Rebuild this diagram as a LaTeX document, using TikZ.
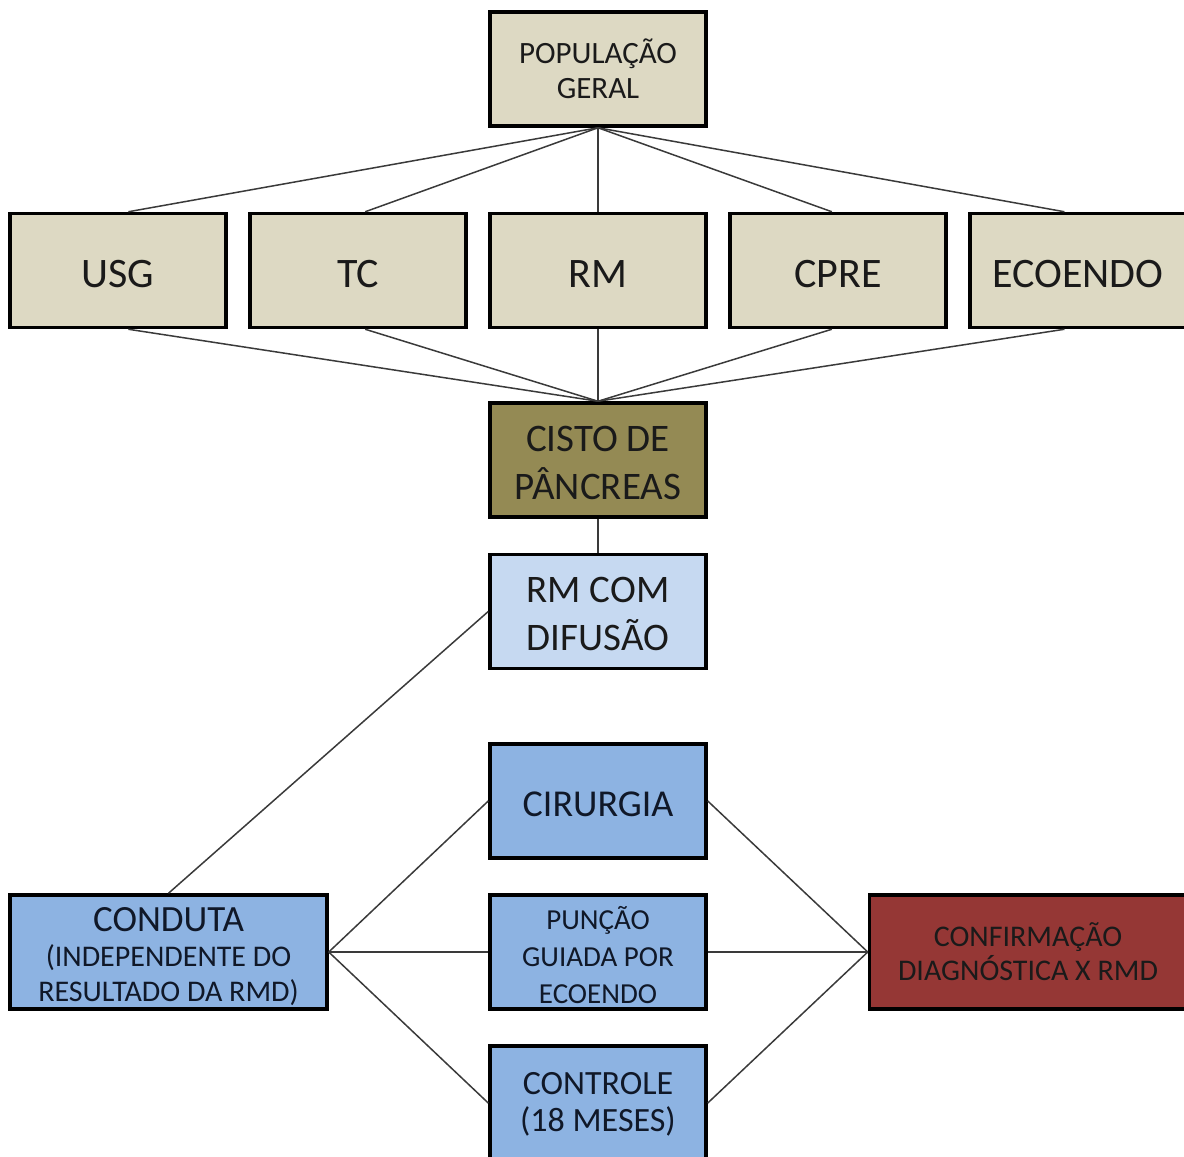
\documentclass[tikz,border=0pt]{standalone}
\usepackage{fontspec}
\setmainfont{Carlito}
\definecolor{beige}{HTML}{DDD9C3}
\definecolor{olive}{HTML}{948A54}
\definecolor{lblue}{HTML}{C6D9F1}
\definecolor{mblue}{HTML}{8DB3E2}
\definecolor{dred}{HTML}{953735}
\definecolor{ink}{HTML}{1A1A1A}
\definecolor{navy}{HTML}{101828}
\definecolor{wire}{HTML}{3A3A3A}
\newcommand{\fs}[2]{\fontsize{#1}{#2}\selectfont}
% extra height above the first line (moves the text block down by half of it)
\newcommand{\padtop}[1]{\raisebox{#1}{\vphantom{A}}}
\newcommand{\padtopacc}[1]{\raisebox{#1}{\vphantom{Ã}}}
\tikzset{
  box/.style={draw=black, line width=3.5pt, minimum width=216pt, minimum height=114pt,
    inner sep=0pt, align=center, text=ink},
  widebox/.style={box, minimum width=317pt},
  conn/.style={draw=wire, line width=1.5pt},
}
\begin{document}
\begin{tikzpicture}[x=1pt, y=-1pt]
\useasboundingbox (0,0) rectangle (1184,1157);
% nodes
\node[box, fill=beige, font=\fs{31}{35}] (pop) at (598,69) {POPULAÇÃO\\GERAL};
\node[box, fill=beige, font=\fs{42}{50}] (usg) at (118,270.5) {\padtop{8pt}USG};
\node[box, fill=beige, font=\fs{42}{50}] (tc) at (358,270.5) {\padtop{8pt}TC};
\node[box, fill=beige, font=\fs{42}{50}] (rm) at (598,270.5) {\padtop{8pt}RM};
\node[box, fill=beige, font=\fs{42}{50}] (cpre) at (838,270.5) {\padtop{8pt}CPRE};
\node[box, fill=beige, font=\fs{42}{50}] (eco) at (1078,270.5) {\padtop{8pt}ECOENDO};
\node[box, fill=olive, font=\fs{39}{48}] (cisto) at (598,460) {\padtop{6pt}CISTO DE\\PÂNCREAS};
\node[box, fill=lblue, font=\fs{39}{48}] (rmd) at (598,611.5) {\padtop{6pt}RM COM\\DIFUSÃO};
\node[box, fill=mblue, text=navy, font=\fs{38}{46}] (cir) at (598,801) {\padtop{6pt}CIRURGIA};
\node[box, fill=mblue, text=navy, font=\fs{29}{37}] (pun) at (598,952) {\padtopacc{6pt}PUNÇÃO\\GUIADA POR\\ECOENDO};
\node[box, fill=mblue, text=navy, font=\fs{34}{37}] (con) at (598,1103) {\padtop{3pt}CONTROLE\\(18 MESES)};
\node[widebox, fill=mblue, text=navy, font=\fs{30}{35}] (cond) at (168.5,952) {{\fs{37}{35}\padtop{10pt}CONDUTA}\\(INDEPENDENTE DO\\RESULTADO DA RMD)};
\node[widebox, fill=dred, font=\fs{30}{34}] (conf) at (1028,952) {CONFIRMAÇÃO\\DIAGNÓSTICA X RMD};
% connectors
\draw[conn] (pop.south) -- (usg.80);
\draw[conn] (pop.south) -- (tc.83);
\draw[conn] (pop.south) -- (rm.north);
\draw[conn] (pop.south) -- (cpre.96);
\draw[conn] (pop.south) -- (eco.103);
\draw[conn] (usg.-80) -- (cisto.north);
\draw[conn] (tc.-83) -- (cisto.north);
\draw[conn] (rm.south) -- (cisto.north);
\draw[conn] (cpre.-96) -- (cisto.north);
\draw[conn] (eco.-103) -- (cisto.north);
\draw[conn] (cisto.south) -- (rmd.north);
\draw[conn] (rmd.west) -- (cond.north);
\draw[conn] (cond.east) -- (cir.west);
\draw[conn] (cond.east) -- (pun.west);
\draw[conn] (cond.east) -- (con.west);
\draw[conn] (cir.east) -- (conf.west);
\draw[conn] (pun.east) -- (conf.west);
\draw[conn] (con.east) -- (conf.west);
\end{tikzpicture}
\end{document}
